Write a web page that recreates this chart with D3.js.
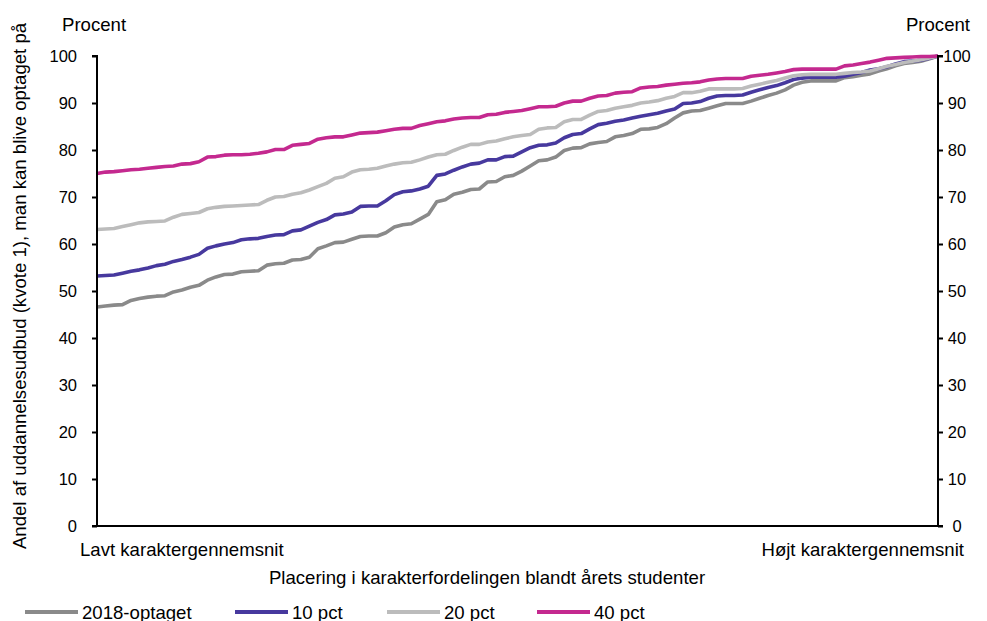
<!DOCTYPE html>
<html>
<head>
<meta charset="utf-8">
<script src="https://cdn.jsdelivr.net/npm/d3@7"></script>
<style>
  html, body { margin: 0; padding: 0; background: #fff; }
  svg { display: block; font-family: "Liberation Sans", Arial, sans-serif; }
</style>
</head>
<body>
<svg id="chart" width="987" height="621"></svg>
<script>
// ---------- DATA ----------
const seriesNames = ["2018-optaget", "10 pct", "20 pct", "40 pct"];
const seriesColors = ["#8a8a8a", "#47399e", "#bcbcbc", "#c4298f"];
const yTicks = [0, 10, 20, 30, 40, 50, 60, 70, 80, 90, 100];
const xLabelLow = "Lavt karaktergennemsnit";
const xLabelHigh = "Højt karaktergennemsnit";

const optaget2018 = [46.6,46.8,47.0,47.1,48.0,48.4,48.7,48.9,49.0,49.8,50.2,50.8,51.2,52.3,53.0,53.5,53.6,54.1,54.2,54.3,
  55.5,55.8,55.9,56.6,56.7,57.2,59.0,59.6,60.3,60.4,61.0,61.6,61.7,61.7,62.4,63.6,64.1,64.3,65.3,66.3,
  69.0,69.4,70.6,71.0,71.6,71.7,73.2,73.3,74.3,74.6,75.5,76.6,77.7,77.9,78.5,79.9,80.4,80.5,81.3,81.6,
  81.8,82.8,83.1,83.5,84.4,84.5,84.8,85.6,86.8,87.9,88.3,88.4,88.9,89.4,89.9,89.9,89.9,90.4,91.0,91.6,
  92.1,92.8,93.8,94.4,94.7,94.7,94.7,94.7,95.4,95.6,95.9,96.2,96.8,97.3,97.9,98.4,98.6,98.9,99.4,100];
const pct10 = [53.2,53.3,53.4,53.8,54.2,54.5,54.9,55.4,55.7,56.3,56.7,57.2,57.8,59.1,59.6,60.0,60.3,60.9,61.1,61.2,
  61.6,61.9,62.0,62.8,63.0,63.8,64.6,65.2,66.2,66.4,66.8,68.0,68.1,68.1,69.2,70.5,71.1,71.3,71.7,72.3,
  74.6,74.9,75.7,76.4,77.0,77.2,77.9,77.9,78.6,78.7,79.6,80.5,81.0,81.1,81.5,82.6,83.3,83.5,84.5,85.4,
  85.7,86.1,86.4,86.8,87.2,87.5,87.8,88.3,88.7,89.9,90.0,90.3,91.0,91.5,91.6,91.6,91.7,92.3,92.8,93.3,
  93.7,94.3,95.0,95.3,95.5,95.5,95.5,95.5,95.7,96.1,96.5,97.0,97.3,97.7,98.3,98.8,98.9,99.1,99.5,100];
const pct20 = [63.1,63.2,63.3,63.7,64.1,64.5,64.7,64.8,64.9,65.7,66.3,66.5,66.7,67.5,67.8,68.0,68.1,68.2,68.3,68.4,
  69.3,70.0,70.1,70.6,70.9,71.5,72.2,72.9,74.0,74.3,75.3,75.8,75.9,76.1,76.6,77.0,77.3,77.4,77.9,78.5,
  79.0,79.1,79.9,80.6,81.2,81.2,81.7,81.9,82.4,82.8,83.1,83.3,84.4,84.7,84.8,86.0,86.5,86.5,87.4,88.2,
  88.4,88.9,89.2,89.5,90.0,90.2,90.5,91.0,91.4,92.2,92.2,92.5,93.0,93.0,93.0,93.0,93.1,93.6,94.0,94.4,
  94.8,95.3,95.8,96.0,96.1,96.1,96.1,96.1,96.3,96.5,96.6,96.8,97.3,97.8,98.2,98.6,98.9,99.2,99.6,100];
const pct40 = [75.0,75.3,75.4,75.6,75.8,75.9,76.1,76.3,76.5,76.6,77.0,77.1,77.5,78.5,78.6,78.9,79.0,79.0,79.1,79.3,
  79.6,80.1,80.1,81.0,81.2,81.4,82.3,82.6,82.8,82.8,83.2,83.6,83.7,83.8,84.1,84.4,84.6,84.6,85.2,85.6,
  86.0,86.2,86.6,86.8,86.9,86.9,87.5,87.6,88.0,88.2,88.4,88.8,89.2,89.2,89.3,90.0,90.4,90.4,91.0,91.5,
  91.6,92.1,92.3,92.4,93.2,93.4,93.5,93.8,94.0,94.2,94.3,94.5,94.9,95.1,95.2,95.2,95.2,95.7,95.9,96.1,
  96.4,96.7,97.1,97.2,97.2,97.2,97.2,97.2,97.9,98.1,98.4,98.7,99.1,99.5,99.6,99.7,99.8,99.9,99.9,100];

const allSeries = [optaget2018, pct10, pct20, pct40];

(function () {
// ---------- LAYOUT ----------
const svg = d3.select("#chart");
const pLeft = 97, pRight = 938, pTop = 56, pBottom = 526;
const font = 18.6;
const tickFont = 16.5;

const x = d3.scaleLinear().domain([1, optaget2018.length]).range([pLeft, pRight]);
const y = d3.scaleLinear().domain([0, 100]).range([pBottom, pTop]);

// Series lines
const line = d3.line().x((d, i) => x(i + 1)).y(d => y(d));
allSeries.forEach((s, k) => {
  svg.append("path")
    .datum(s)
    .attr("d", line)
    .attr("fill", "none")
    .attr("stroke", seriesColors[k])
    .attr("stroke-width", 3.6)
    .attr("stroke-linejoin", "round");
});

// Axes
const leftAxis = d3.axisLeft(y).tickValues(yTicks).tickSize(5).tickPadding(15);
const rightAxis = d3.axisRight(y).tickValues(yTicks).tickSize(5).tickPadding(18);

const gL = svg.append("g").attr("transform", `translate(${pLeft},0)`).call(leftAxis);
const gR = svg.append("g").attr("transform", `translate(${pRight},0)`).call(rightAxis);
[gL, gR].forEach(g => {
  g.select(".domain").attr("stroke", "#000").attr("stroke-width", 2);
  g.selectAll(".tick line").attr("stroke", "#000").attr("stroke-width", 2);
  g.selectAll(".tick text").attr("font-size", tickFont).attr("fill", "#000")
    .attr("font-family", "Liberation Sans, Arial, sans-serif");
});
gR.selectAll(".tick text").attr("text-anchor", "middle").attr("x", 19);
gL.select(".domain").attr("d", `M-5,${pTop}H0V${pBottom}H-5`);
gR.select(".domain").attr("d", `M5,${pTop}H0V${pBottom}H5`);

// X axis line (no ticks)
svg.append("line")
  .attr("x1", pLeft - 5).attr("x2", pRight + 1)
  .attr("y1", pBottom).attr("y2", pBottom)
  .attr("stroke", "#000").attr("stroke-width", 2);

// "Procent" labels
svg.append("text").attr("x", 62).attr("y", 31).attr("font-size", font).text("Procent");
svg.append("text").attr("x", 970).attr("y", 31).attr("text-anchor", "end").attr("font-size", font).text("Procent");

// Y title
svg.append("text")
  .attr("transform", `translate(26,286) rotate(-90)`)
  .attr("text-anchor", "middle")
  .attr("font-size", font)
  .text("Andel af uddannelsesudbud (kvote 1), man kan blive optaget på");

// X labels
svg.append("text").attr("x", 80).attr("y", 556).attr("font-size", font).text(xLabelLow);
svg.append("text").attr("x", 964).attr("y", 556).attr("text-anchor", "end").attr("font-size", font).text(xLabelHigh);
svg.append("text").attr("x", 487).attr("y", 584).attr("text-anchor", "middle").attr("font-size", font)
  .text("Placering i karakterfordelingen blandt årets studenter");

// Legend
const legendX = [25, 235, 387, 537];
seriesNames.forEach((name, k) => {
  const g = svg.append("g").attr("transform", `translate(${legendX[k]},612)`);
  g.append("line").attr("x1", 0).attr("x2", 53).attr("y1", 0).attr("y2", 0)
    .attr("stroke", seriesColors[k]).attr("stroke-width", 4);
  g.append("text").attr("x", 57).attr("y", 6.5).attr("font-size", font).text(name);
});
})();
</script>
</body>
</html>
